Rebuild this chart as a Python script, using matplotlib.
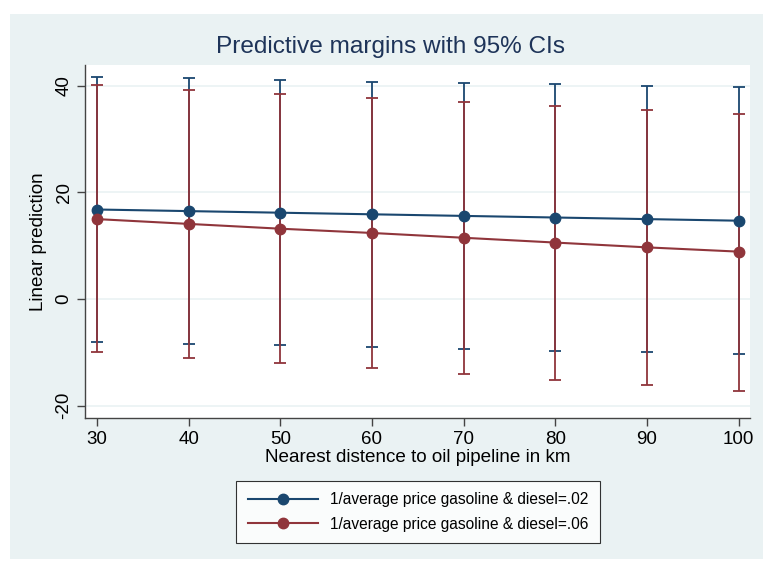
import matplotlib
matplotlib.use('Agg')
import matplotlib.pyplot as plt
from matplotlib.patches import Rectangle

plt.rcParams['font.family'] = ['Liberation Sans', 'DejaVu Sans']
plt.rcParams['axes.unicode_minus'] = False

# distance values
dist = [30, 40, 50, 60, 70, 80, 90, 100]

# 1/price = .02
pred_02 = [16.8, 16.5, 16.2, 15.9, 15.6, 15.3, 15.0, 14.7]
upper_02 = [41.7, 41.4, 41.1, 40.8, 40.5, 40.3, 40.0, 39.8]
lower_02 = [-8.1, -8.4, -8.7, -9.0, -9.3, -9.7, -10.0, -10.3]

# 1/price = .06
pred_06 = [15.0, 14.1, 13.2, 12.4, 11.5, 10.6, 9.7, 8.9]
upper_06 = [40.1, 39.3, 38.5, 37.7, 37.0, 36.2, 35.5, 34.8]
lower_06 = [-10.0, -11.0, -12.0, -13.0, -14.0, -15.1, -16.1, -17.2]

labels = ['1/average price gasoline & diesel=.02',
          '1/average price gasoline & diesel=.06']

navy = '#1a476f'
maroon = '#90353b'
bg = '#eaf2f3'

fig = plt.figure(figsize=(7.63, 5.61), dpi=100)
fig.patch.set_facecolor('white')
# stata graph region
fig.patches.append(Rectangle((10/763, 1 - 559/561), 753/763, 545/561,
                             transform=fig.transFigure, facecolor=bg,
                             edgecolor='none', zorder=-10))

ax = fig.add_axes([85/763, 1 - 418/561, 665/763, 353/561])
ax.set_facecolor('white')

def err(pred, lo, hi):
    return [[p - l for p, l in zip(pred, lo)], [h - p for p, h in zip(pred, hi)]]

ax.errorbar(dist, pred_02, yerr=err(pred_02, lower_02, upper_02), fmt='none',
            ecolor=navy, elinewidth=1.3, capsize=4, capthick=1.3, zorder=2)
ax.errorbar(dist, pred_06, yerr=err(pred_06, lower_06, upper_06), fmt='none',
            ecolor=maroon, elinewidth=1.3, capsize=4, capthick=1.3, zorder=2)
ax.plot(dist, pred_02, '-o', color=navy, lw=1.5, ms=7.5, label=labels[0], zorder=3)
ax.plot(dist, pred_06, '-o', color=maroon, lw=1.5, ms=7.5, label=labels[1], zorder=3)

ax.set_xlim(28.69, 101.24)
ax.set_ylim(-22.3, 43.9)
ax.set_xticks(dist)
ax.set_yticks([-20, 0, 20, 40])
ax.grid(axis='y', color=bg, lw=1.2)
ax.set_axisbelow(True)
for s in ['top', 'right']:
    ax.spines[s].set_visible(False)
for s in ['left', 'bottom']:
    ax.spines[s].set_color('#444444')
    ax.spines[s].set_linewidth(1)
ax.tick_params(direction='out', length=6, width=1, color='#444444',
               labelsize=13.5, pad=3)
for t in ax.get_yticklabels():
    t.set_rotation(90)
    t.set_va('center')

ax.set_xlabel('Nearest distence to oil pipeline in km', fontsize=13.6, labelpad=1)
ax.set_ylabel('Linear prediction', fontsize=13.6, labelpad=6)
fig.text(390/763, 1 - 47/561, 'Predictive margins with 95% CIs', ha='center',
         va='center', fontsize=17.6, color='#1e3459')

leg = fig.legend(loc='center', bbox_to_anchor=(418/763, 1 - 512/561), ncol=1,
                 frameon=True, fancybox=False, edgecolor='black', fontsize=11.2,
                 handlelength=4.5, borderpad=0.75, labelspacing=0.6)
leg.get_frame().set_linewidth(0.8)

plt.savefig('out.png', dpi=100)
